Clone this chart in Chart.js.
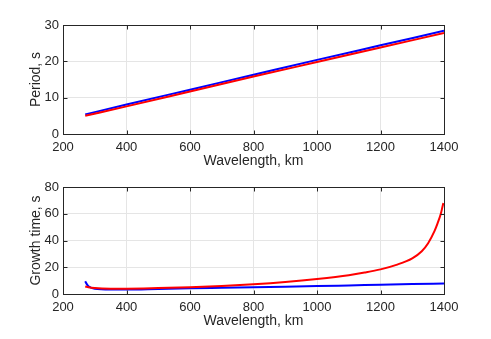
<!DOCTYPE html>
<html>
<head>
<meta charset="utf-8">
<script src="https://cdn.jsdelivr.net/npm/chart.js@4"></script>
<style>
  html, body { margin: 0; padding: 0; background: #fff; }
  #wrap { position: relative; width: 491px; height: 339px; }
  .box { position: absolute; left: 0; width: 491px; }
  #top { top: 0; height: 170px; }
  #bot { top: 162px; height: 168px; }
</style>
</head>
<body>
<div id="wrap">
  <div class="box" id="top"><canvas id="c1" width="491" height="170"></canvas></div>
  <div class="box" id="bot"><canvas id="c2" width="491" height="168"></canvas></div>
</div>
<script>
// 上段：周期、下段：成長時間（波長 km に対して）
const periodWl = [270, 400, 600, 800, 1000, 1200, 1400];
const periodBlue = [5.4, 8.1, 12.2, 16.3, 20.4, 24.4, 28.4];
const periodRed = [5.0, 7.6, 11.7, 15.8, 19.8, 23.8, 27.8];

const growBlueWl = [270, 275, 280, 290, 300, 320, 350, 400, 500, 600, 700, 800, 900, 1000, 1100, 1200, 1300, 1400];
const growBlue = [9.5, 7.4, 5.8, 4.6, 4.0, 3.5, 3.3, 3.3, 3.8, 4.3, 4.7, 5.1, 5.5, 5.9, 6.4, 6.9, 7.4, 7.8];
const growRedWl = [270, 280, 300, 350, 400, 500, 600, 700, 800, 900, 1000, 1100, 1150, 1200, 1250, 1300, 1330, 1350, 1370, 1380, 1390, 1395, 1398];
const growRed = [5.6, 5.0, 4.4, 4.0, 4.0, 4.4, 5.0, 6.0, 7.3, 9.0, 11.2, 14.0, 16.0, 18.4, 21.8, 26.7, 32.0, 38.0, 47.0, 53.0, 60.0, 65.0, 68.0];

const xTicks = [200, 400, 600, 800, 1000, 1200, 1400];
const topYMax = 30, topYStep = 10;
const botYMax = 80, botYStep = 20;

const INK = '#262626';
const GRID = '#e5e5e5';
const FONT = 'Liberation Sans';
const pts = (xs, ys) => xs.map((x, i) => ({ x, y: ys[i] }));

// 枠線と内向きの目盛り（MATLAB の box on 相当）
const boxPlugin = {
  id: 'box',
  afterDatasetsDraw(chart) {
    const { ctx, chartArea: a, scales } = chart;
    const L = Math.round(a.left) + 0.5, T = Math.round(a.top) + 0.5;
    const R = Math.round(a.right) + 0.5, B = Math.round(a.bottom) + 0.5;
    ctx.save();
    ctx.strokeStyle = INK; ctx.lineWidth = 1;
    ctx.strokeRect(L, T, R - L, B - T);
    ctx.beginPath();
    scales.x.ticks.forEach(t => {
      const px = Math.round(scales.x.getPixelForValue(t.value)) + 0.5;
      ctx.moveTo(px, B); ctx.lineTo(px, B - 4);
      ctx.moveTo(px, T); ctx.lineTo(px, T + 4);
    });
    scales.y.ticks.forEach(t => {
      const py = Math.round(scales.y.getPixelForValue(t.value)) + 0.5;
      ctx.moveTo(L, py); ctx.lineTo(L + 4, py);
      ctx.moveTo(R, py); ctx.lineTo(R - 4, py);
    });
    ctx.stroke();
    ctx.restore();
  }
};

function makeChart(id, datasets, yMax, yStep, yTitle) {
  return new Chart(document.getElementById(id), {
    type: 'line',
    data: { datasets },
    options: {
      responsive: false, animation: false,
      layout: { padding: { top: 25, right: 47, left: 28, bottom: 0 } },
      elements: { point: { radius: 0 }, line: { borderWidth: 2, cubicInterpolationMode: 'monotone' } },
      plugins: { legend: { display: false }, tooltip: { enabled: false } },
      scales: {
        x: {
          type: 'linear', min: 200, max: 1400,
          afterBuildTicks: s => { s.ticks = xTicks.map(v => ({ value: v })); },
          ticks: { color: INK, font: { family: FONT, size: 13 }, padding: 6, maxRotation: 0, callback: v => String(v) },
          grid: { color: GRID, drawTicks: false },
          border: { color: INK },
          title: { display: true, text: 'Wavelength, km', color: INK, font: { family: FONT, size: 14 }, padding: { top: 0, bottom: 0 } },
          afterFit: s => { s.height = 36; }
        },
        y: {
          min: 0, max: yMax,
          ticks: { stepSize: yStep, color: INK, font: { family: FONT, size: 13 }, padding: 4 },
          grid: { color: GRID, drawTicks: false },
          border: { color: INK },
          title: { display: true, text: yTitle, color: INK, font: { family: FONT, size: 14 }, padding: { top: 0, bottom: 2 } },
          afterFit: s => { s.width = 35; }
        }
      }
    },
    plugins: [boxPlugin]
  });
}

makeChart('c1', [
  { data: pts(periodWl, periodRed), borderColor: '#ff0000' },
  { data: pts(periodWl, periodBlue), borderColor: '#0000ff' }
], topYMax, topYStep, 'Period, s');

makeChart('c2', [
  { data: pts(growRedWl, growRed), borderColor: '#ff0000' },
  { data: pts(growBlueWl, growBlue), borderColor: '#0000ff' }
], botYMax, botYStep, 'Growth time, s');
</script>
</body>
</html>
